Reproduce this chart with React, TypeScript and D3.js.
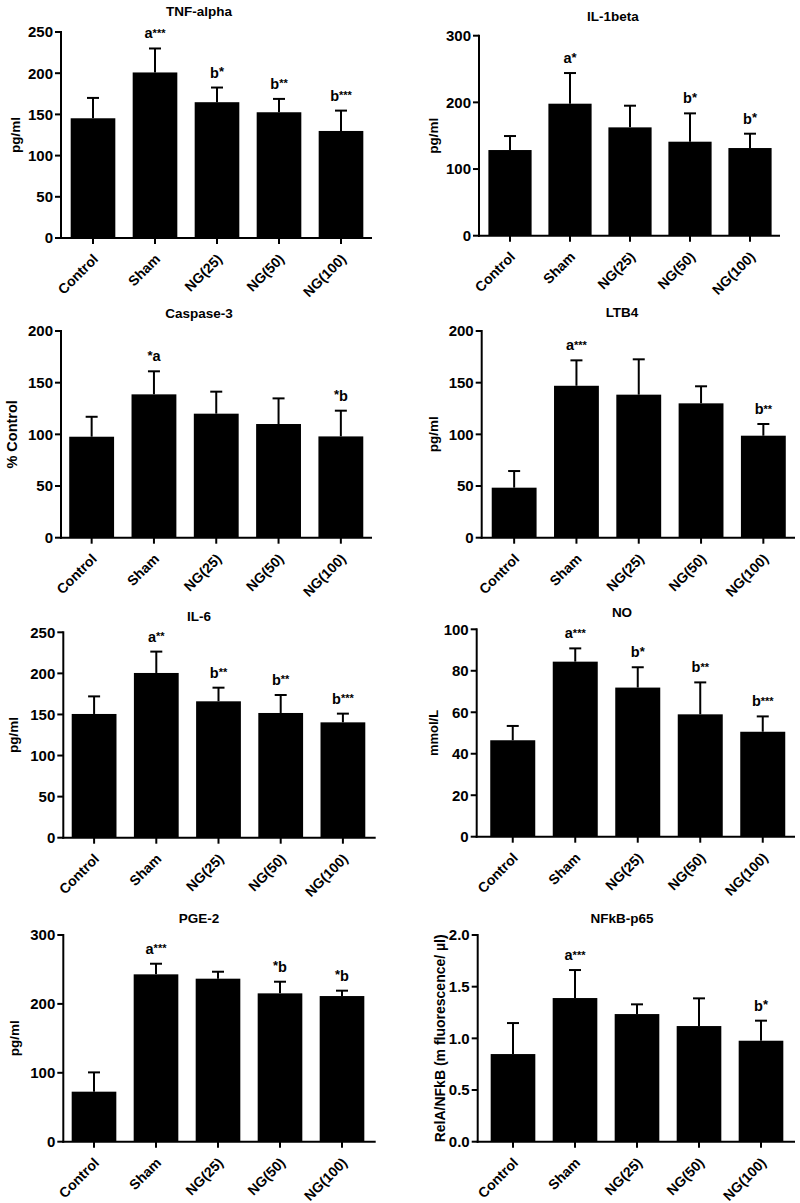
import React from "react";
import * as d3 from "d3";

const categories = ["Control", "Sham", "NG(25)", "NG(50)", "NG(100)"];

const tnfMean = [145.3, 200.9, 164.8, 152.6, 129.9];
const tnfErr = [24.7, 29.1, 17.8, 16.2, 24.7];
const tnfMarks = ["", "a***", "b*", "b**", "b***"];

const il1Mean = [128.5, 198, 162.5, 141, 131.5];
const il1Err = [21, 46, 32.5, 42.5, 21.5];
const il1Marks = ["", "a*", "", "b*", "b*"];

const caspMean = [97.7, 138.7, 120, 110, 98];
const caspErr = [19.3, 22.3, 21.3, 24.8, 24.9];
const caspMarks = ["", "*a", "", "", "*b"];

const ltbMean = [48.4, 147, 138.4, 130, 98.7];
const ltbErr = [16.1, 24.6, 34.2, 16.5, 11.3];
const ltbMarks = ["", "a***", "", "", "b**"];

const il6Mean = [150.6, 200.5, 166, 151.8, 140.4];
const il6Err = [21.4, 26, 16.6, 21.9, 10.6];
const il6Marks = ["", "a**", "b**", "b**", "b***"];

const noMean = [46.5, 84.4, 71.9, 59, 50.6];
const noErr = [6.9, 6.4, 9.8, 15.4, 7.4];
const noMarks = ["", "a***", "b*", "b**", "b***"];

const pgeMean = [72.6, 242.9, 236.6, 215.3, 211.4];
const pgeErr = [28, 15.4, 10.1, 16.9, 7.8];
const pgeMarks = ["", "a***", "", "*b", "*b"];

const nfkbMean = [0.848, 1.39, 1.235, 1.119, 0.977];
const nfkbErr = [0.3, 0.271, 0.094, 0.268, 0.194];
const nfkbMarks = ["", "a***", "", "", "b*"];

const titles = ["TNF-alpha", "IL-1beta", "Caspase-3", "LTB4", "IL-6", "NO", "PGE-2", "NFkB-p65"];
const yLabels = ["pg/ml", "pg/ml", "% Control", "pg/ml", "pg/ml", "mmol/L", "pg/ml", "RelA/NFkB (m fluorescence/ \u00b5l)"];
const yMaxes = [250, 300, 200, 200, 250, 100, 300, 2.0];
const ySteps = [50, 100, 50, 50, 50, 20, 100, 0.5];
const yFormats = ["d", "d", "d", "d", "d", "d", "d", ".1f"];

// layout (positions only)
const layouts = [
  { x0: 61, bandL: 62, bandR: 372, axisR: 372, yTop: 32, yBot: 238, titleX: 199, titleY: 16, labX: 20, labSize: 13.5 },
  { x0: 479, bandL: 480, bandR: 780, axisR: 780, yTop: 35.7, yBot: 235.7, titleX: 613, titleY: 21, labX: 438, labSize: 13.5 },
  { x0: 61, bandL: 60.5, bandR: 372, axisR: 372, yTop: 331, yBot: 537.7, titleX: 199, titleY: 318, labX: 17, labSize: 14.5 },
  { x0: 481.7, bandL: 483, bandR: 794.5, axisR: 795, yTop: 331, yBot: 537.7, titleX: 622, titleY: 317, labX: 438, labSize: 13.5 },
  { x0: 63.3, bandL: 63, bandR: 374, axisR: 375.7, yTop: 632.3, yBot: 837.7, titleX: 199, titleY: 621, labX: 18, labSize: 13.5 },
  { x0: 476.7, bandL: 481.5, bandR: 794, axisR: 795, yTop: 629.3, yBot: 836.7, titleX: 622, titleY: 617, labX: 438, labSize: 13 },
  { x0: 63.3, bandL: 63, bandR: 373, axisR: 375.7, yTop: 935, yBot: 1141.7, titleX: 199, titleY: 923, labX: 19, labSize: 13.5 },
  { x0: 477.7, bandL: 482, bandR: 792, axisR: 795, yTop: 935, yBot: 1141.7, titleX: 622, titleY: 923, labX: 445, labSize: 14 },
];

const meansList = [tnfMean, il1Mean, caspMean, ltbMean, il6Mean, noMean, pgeMean, nfkbMean];
const errsList = [tnfErr, il1Err, caspErr, ltbErr, il6Err, noErr, pgeErr, nfkbErr];
const marksList = [tnfMarks, il1Marks, caspMarks, ltbMarks, il6Marks, noMarks, pgeMarks, nfkbMarks];

const FONT = "'Liberation Sans', Arial, Helvetica, sans-serif";

function Mark({ x, y, mark }: { x: number; y: number; mark: string }) {
  if (!mark) return null;
  const starFirst = mark.startsWith("*");
  const letter = mark.replace(/\*/g, "");
  const stars = mark.replace(/[^*]/g, "");
  const starSize = stars.length > 1 ? 11 : 13;
  const starSpan = (
    <tspan fontSize={starSize} dy={-1.5}>
      {stars}
    </tspan>
  );
  return (
    <text x={x} y={y} textAnchor="middle" fontFamily={FONT} fontWeight="bold" fontSize={14.5} fill="#000">
      {starFirst ? (
        <>
          {starSpan}
          <tspan dy={1.5}>{letter}</tspan>
        </>
      ) : (
        <>
          <tspan>{letter}</tspan>
          {starSpan}
        </>
      )}
    </text>
  );
}

function Panel({ i }: { i: number }) {
  const L = layouts[i];
  const means = meansList[i];
  const errs = errsList[i];
  const marks = marksList[i];
  const x = d3.scaleBand<string>().domain(categories).range([L.bandL, L.bandR]).paddingInner(0.28).paddingOuter(0.14);
  const y = d3.scaleLinear().domain([0, yMaxes[i]]).range([L.yBot, L.yTop]);
  const ticks = d3.range(0, yMaxes[i] + ySteps[i] / 2, ySteps[i]);
  const fmt = d3.format(yFormats[i]);
  const capW = 12;
  return (
    <g>
      <text x={L.titleX} y={L.titleY} textAnchor="middle" fontFamily={FONT} fontWeight="bold" fontSize={13.5}>
        {titles[i]}
      </text>
      <text
        transform={`translate(${L.labX},${(L.yTop + L.yBot) / 2}) rotate(-90)`}
        textAnchor="middle"
        fontFamily={FONT}
        fontWeight="bold"
        fontSize={L.labSize}
      >
        {yLabels[i]}
      </text>
      {categories.map((c, k) => {
        const bx = x(c)!;
        const cx = bx + x.bandwidth() / 2;
        const top = y(means[k]);
        const et = y(means[k] + errs[k]);
        return (
          <g key={c}>
            <rect x={bx} y={top} width={x.bandwidth()} height={L.yBot - top} fill="#000" />
            <line x1={cx} x2={cx} y1={top} y2={et} stroke="#000" strokeWidth={2} />
            <line x1={cx - capW / 2} x2={cx + capW / 2} y1={et} y2={et} stroke="#000" strokeWidth={2} />
            <Mark x={cx} y={et - 10} mark={marks[k]} />
            <line x1={cx} x2={cx} y1={L.yBot} y2={L.yBot + 6} stroke="#000" strokeWidth={2} />
            <text
              transform={`translate(${cx + 6},${L.yBot + 22}) rotate(-45)`}
              textAnchor="end"
              fontFamily={FONT}
              fontWeight="bold"
              fontSize={14}
            >
              {c}
            </text>
          </g>
        );
      })}
      <line x1={L.x0} x2={L.x0} y1={L.yTop - 1} y2={L.yBot + 1} stroke="#000" strokeWidth={2} />
      <line x1={L.x0 - 1} x2={L.axisR} y1={L.yBot} y2={L.yBot} stroke="#000" strokeWidth={2} />
      {ticks.map((t) => (
        <g key={t}>
          <line x1={L.x0 - 6} x2={L.x0} y1={y(t)} y2={y(t)} stroke="#000" strokeWidth={2} />
          <text x={L.x0 - 8} y={y(t)} dy="0.36em" textAnchor="end" fontFamily={FONT} fontWeight="bold" fontSize={15}>
            {fmt(t)}
          </text>
        </g>
      ))}
    </g>
  );
}

export default function App() {
  return (
    <svg
      width={800}
      height={1203}
      viewBox="0 0 800 1203"
      style={{ position: "absolute", left: 0, top: 0, background: "#fff", display: "block" }}
    >
      <rect width={800} height={1203} fill="#fff" />
      {titles.map((_, i) => (
        <Panel key={i} i={i} />
      ))}
    </svg>
  );
}
